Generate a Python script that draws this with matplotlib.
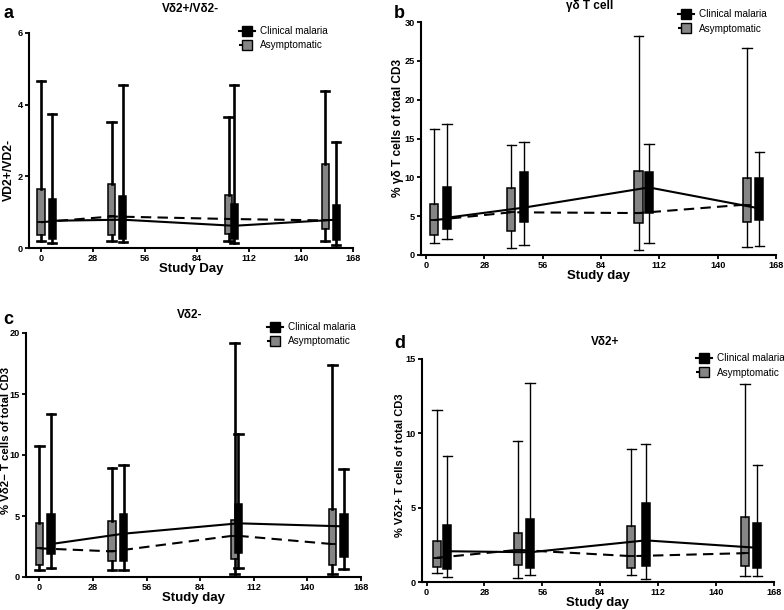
import matplotlib
matplotlib.use('Agg')
import matplotlib.pyplot as plt
from matplotlib.lines import Line2D

plt.rcParams['font.family'] = ['Liberation Sans', 'DejaVu Sans']

# box stats per group: [whisker low, q1, median, q3, whisker high]
# panel a: Vd2+/Vd2- ratio
a_days_asym = [0, 38, 101, 153]
a_days_clin = [6, 44, 104, 159]
a_asym = [[0.19, 0.37, 0.72, 1.65, 4.67],
          [0.19, 0.37, 0.88, 1.79, 3.53],
          [0.19, 0.39, 0.81, 1.49, 3.65],
          [0.19, 0.53, 0.77, 2.35, 4.37]]
a_clin = [[0.14, 0.25, 0.76, 1.37, 3.75],
          [0.16, 0.25, 0.79, 1.44, 4.56],
          [0.14, 0.25, 0.62, 1.24, 4.56],
          [0.09, 0.23, 0.79, 1.21, 2.96]]

# panel b: gd T cells
b_days_asym = [4, 41, 102, 154]
b_days_clin = [10, 47, 107, 160]
b_asym = [[1.6, 2.6, 4.5, 6.6, 16.2],
          [0.9, 3.1, 5.5, 8.6, 14.2],
          [0.7, 4.1, 5.4, 10.8, 28.2],
          [1.0, 4.2, 6.5, 9.9, 26.7]]
b_clin = [[2.0, 3.4, 4.8, 8.8, 16.9],
          [1.3, 4.2, 6.1, 10.7, 14.6],
          [1.5, 5.4, 8.7, 10.7, 14.3],
          [1.2, 4.5, 6.0, 9.9, 13.3]]

# panel c: Vd2-
c_days_asym = [0, 38, 102, 153]
c_days_clin = [6, 44, 104, 159]
c_asym = [[0.6, 1.0, 2.35, 4.4, 10.7],
          [0.55, 1.3, 2.1, 4.6, 8.95],
          [0.25, 1.5, 3.4, 4.65, 19.2],
          [0.25, 1.0, 2.7, 5.55, 17.4]]
c_clin = [[0.75, 1.85, 2.7, 5.15, 13.4],
          [0.55, 1.3, 3.55, 5.15, 9.2],
          [0.7, 2.0, 4.4, 6.0, 11.7],
          [0.65, 1.6, 4.15, 5.2, 8.85]]

# panel d: Vd2+
d_days_asym = [5, 44, 99, 154]
d_days_clin = [10, 50, 106, 160]
d_asym = [[0.6, 1.0, 1.63, 2.75, 11.6],
          [0.3, 1.15, 2.16, 3.27, 9.5],
          [0.5, 0.93, 1.74, 3.8, 8.97],
          [0.4, 1.1, 1.94, 4.34, 13.3]]
d_clin = [[0.35, 0.85, 2.07, 3.85, 8.5],
          [0.5, 0.93, 2.0, 4.23, 13.4],
          [0.22, 1.07, 2.8, 5.3, 9.25],
          [0.38, 0.93, 2.3, 3.96, 7.86]]

x_ticks = [0, 28, 56, 84, 112, 140, 168]
W, H = 784, 610
GRAY = '#858585'


def to_stats(rows):
    return [dict(whislo=r[0], q1=r[1], med=r[2], q3=r[3], whishi=r[4], fliers=[]) for r in rows]


def panel(rect, days_a, days_c, asym, clin, ylim, yticks, xlabel, lw, xmin):
    ax = fig.add_axes(rect)
    for days, rows, fc in [(days_a, asym, GRAY), (days_c, clin, 'black')]:
        ax.bxp(to_stats(rows), positions=days, widths=3.9, capwidths=4.5,
               patch_artist=True, showfliers=False, manage_ticks=False,
               boxprops=dict(facecolor=fc, edgecolor='black', linewidth=1.1),
               whiskerprops=dict(color='black', linewidth=lw),
               capprops=dict(color='black', linewidth=lw),
               medianprops=dict(color='black', linewidth=1.3))
    ax.plot(days_c, [r[2] for r in clin], color='black', lw=1.5, zorder=5)
    ax.plot(days_a, [r[2] for r in asym], color='black', lw=1.5, ls=(0, (5, 3)), zorder=5)
    ax.set_xlim(xmin, 168)
    ax.set_ylim(*ylim)
    ax.set_xticks(x_ticks)
    ax.set_yticks(yticks)
    for s in ['top', 'right']:
        ax.spines[s].set_visible(False)
    for s in ['left', 'bottom']:
        ax.spines[s].set_linewidth(1.5)
    ax.tick_params(direction='out', length=3, width=1.3, labelsize=6.6, pad=1.5)
    for t in ax.get_xticklabels() + ax.get_yticklabels():
        t.set_fontweight('bold')
    ax.set_xlabel(xlabel, fontsize=9.5, fontweight='bold', labelpad=0)
    return ax


def legend(x, y, ax):
    handles = [Line2D([], [], color='black', lw=1.5, marker='s', markersize=7,
                      markerfacecolor='black', markeredgecolor='black'),
               Line2D([], [], color='black', lw=1.5, ls=(0, (2.5, 1.5)), marker='s', markersize=7,
                      markerfacecolor=GRAY, markeredgecolor='black')]
    ax.legend(handles, ['Clinical malaria', 'Asymptomatic'], loc='upper left',
              bbox_to_anchor=(x / W, 1 - y / H), bbox_transform=fig.transFigure,
              frameon=False, fontsize=7.2, handlelength=1.6, handletextpad=0.5,
              labelspacing=0.45, borderpad=0, borderaxespad=0)


fig = plt.figure(figsize=(W / 100, H / 100), dpi=100)

ax_a = panel([29 / W, 1 - 248 / H, 324 / W, 215 / H], a_days_asym, a_days_clin, a_asym, a_clin,
             (0, 6), [0, 2, 4, 6], 'Study Day', 1.9, -6.5)
ax_b = panel([421 / W, 1 - 255 / H, 355 / W, 233 / H], b_days_asym, b_days_clin, b_asym, b_clin,
             (0, 30), [0, 5, 10, 15, 20, 25, 30], 'Study day', 1.0, -2.4)
ax_c = panel([26 / W, 1 - 577 / H, 335 / W, 244 / H], c_days_asym, c_days_clin, c_asym, c_clin,
             (0, 20), [0, 5, 10, 15, 20], 'Study day', 1.9, -7)
ax_d = panel([422 / W, 1 - 582 / H, 352 / W, 223 / H], d_days_asym, d_days_clin, d_asym, d_clin,
             (0, 15), [0, 5, 10, 15], 'Study day', 1.0, -2.2)

legend(239, 26, ax_a)
legend(678, 9, ax_b)
legend(267, 322, ax_c)
legend(696, 353, ax_d)

# y-axis labels, placed as in the reference
for txt, x, y, fs in [('VD2+/VD2-', 9, 170, 8.8), ('% γδ T cells of total CD3', 398, 128, 8.6),
                      ('% Vδ2− T cells of total CD3', 6, 440, 8.2),
                      ('% Vδ2+ T cells of total CD3', 400, 465, 8.0)]:
    fig.text(x / W, 1 - y / H, txt, rotation=90, ha='center', va='center',
             fontsize=fs, fontweight='bold')

for txt, x, y in [('Vδ2+/Vδ2-', 190, 9), ('γδ T cell', 590, 6),
                  ('Vδ2-', 190, 315), ('Vδ2+', 605, 342)]:
    fig.text(x / W, 1 - y / H, txt, ha='center', va='center', fontsize=8.5, fontweight='bold')
for txt, x, y in [('a', 3, 13), ('b', 394, 13), ('c', 3, 320), ('d', 394, 344)]:
    fig.text(x / W, 1 - y / H, txt, ha='left', va='center', fontsize=13, fontweight='bold')

fig.savefig('out.png', dpi=100)
